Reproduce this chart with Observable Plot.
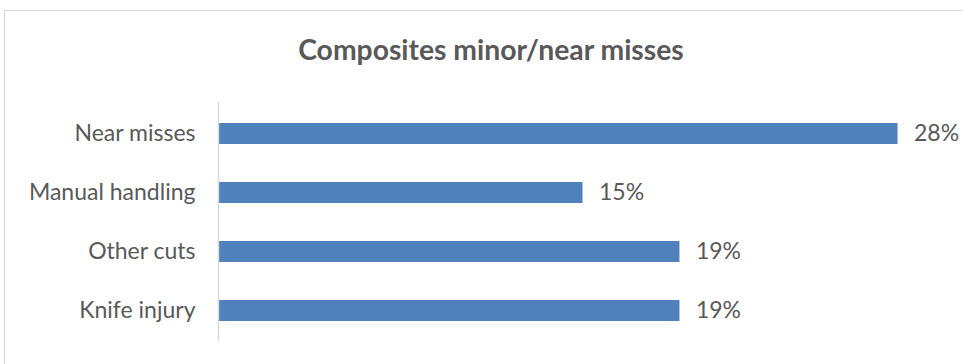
<!DOCTYPE html>
<html>
<head>
<meta charset="utf-8">
<script src="https://cdn.jsdelivr.net/npm/d3@7"></script>
<script src="https://cdn.jsdelivr.net/npm/@observablehq/plot@0.6"></script>
<style>
  html, body { margin: 0; padding: 0; background: #fff; overflow: hidden; }
  #wrap { position: relative; width: 963px; height: 364px; overflow: hidden; }
  #frame { position: absolute; left: 4px; top: 10px; width: 1000px; height: 400px; border: 1px solid #d9d9d9; box-sizing: border-box; }
  #title { position: absolute; left: 0; width: 982px; top: 31px; text-align: center;
           font-family: Lato, "Open Sans", sans-serif; font-weight: bold; font-size: 28.3px; color: #595959; line-height: 36px; }
  #chart { position: absolute; left: 0; top: 0; }
</style>
</head>
<body>
<div id="wrap">
  <div id="frame"></div>
  <div id="title">Composites minor/near misses</div>
  <div id="chart"></div>
</div>
<script>
const categories = ["Near misses", "Manual handling", "Other cuts", "Knife injury"];
const values = [0.28, 0.15, 0.19, 0.19];
const axisMax = 0.30;

const data = categories.map((c, i) => ({category: c, value: values[i]}));
const fmt = d3.format(".0%");

const plot = Plot.plot({
  width: 963,
  height: 364,
  marginLeft: 219,
  marginRight: 17,
  marginTop: 102,
  marginBottom: 23,
  style: { fontFamily: "Lato, 'Open Sans', sans-serif", fontSize: "23px", color: "#595959", background: "transparent" },
  x: { domain: [0, axisMax], axis: null },
  y: { domain: categories, paddingInner: 0.645, paddingOuter: 0.3225, label: null, tickSize: 0, tickPadding: 24 },
  marks: [
    Plot.barX(data, { x: "value", y: "category", fill: "#4f81bd" }),
    Plot.ruleX([0], { stroke: "#d9d9d9", strokeWidth: 1.5, dx: -1 }),
    Plot.text(data, { x: "value", y: "category", text: d => fmt(d.value), textAnchor: "start", dx: 16, fill: "#595959", fontSize: 23 }),
    Plot.axisY({ tickSize: 0, tickPadding: 24, fontSize: 23, label: null, fill: "#595959" })
  ]
});
document.getElementById("chart").appendChild(plot);
</script>
</body>
</html>
